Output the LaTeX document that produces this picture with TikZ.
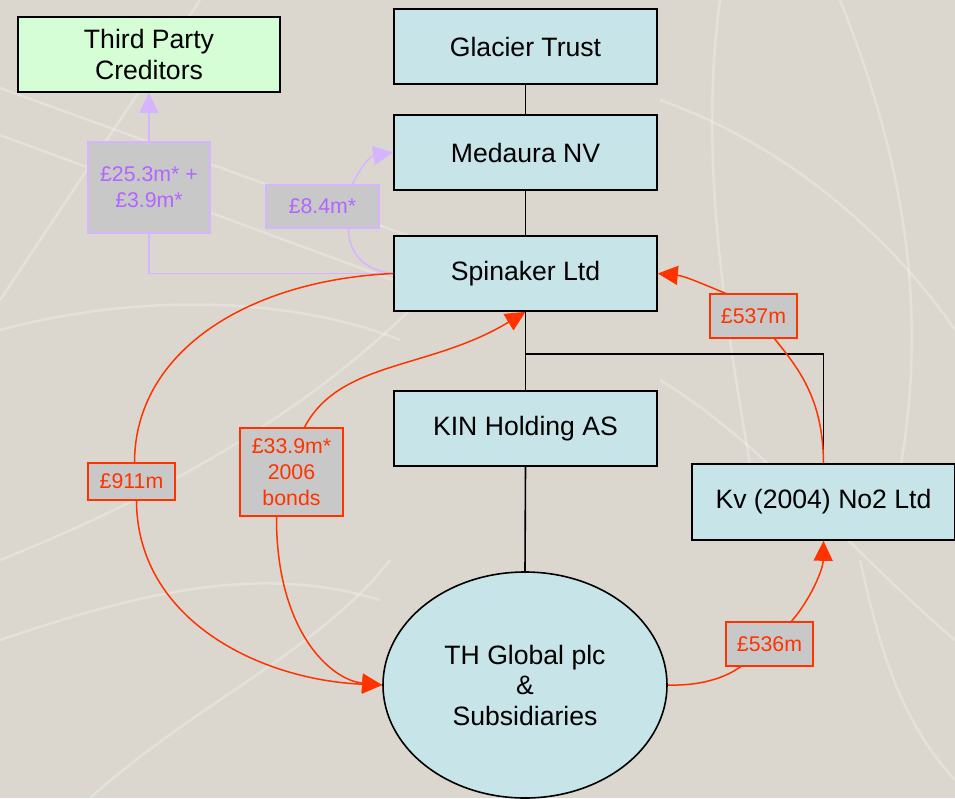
\documentclass[tikz,border=0pt]{standalone}
\usepackage{fontspec}
\setmainfont{Liberation Sans}
\usetikzlibrary{arrows.meta,shapes.geometric,calc}
\definecolor{bgc}{RGB}{219,215,207}
\definecolor{boxblue}{RGB}{199,228,232}
\definecolor{boxgreen}{RGB}{214,254,214}
\definecolor{lblgray}{RGB}{200,200,200}
\definecolor{redc}{RGB}{255,51,0}
\definecolor{purpline}{RGB}{214,180,255}
\definecolor{purptext}{RGB}{178,102,255}
\tikzset{
  entity/.style={draw=black,line width=1.6pt,fill=boxblue,minimum width=263pt,minimum height=75pt,inner sep=0pt,align=center,font=\fontsize{26.6}{30.5}\selectfont},
  redlbl/.style={draw=redc,line width=1.5pt,fill=lblgray,text=redc,inner sep=0pt,align=center,font=\fontsize{21.3}{26}\selectfont},
  purlbl/.style={draw=purpline,line width=1.5pt,fill=lblgray,text=purptext,inner sep=0pt,align=center,font=\fontsize{21.3}{26}\selectfont},
  redline/.style={draw=redc,line width=1.5pt},
  purline/.style={draw=purpline,line width=1.5pt},
  blkline/.style={draw=black,line width=1.6pt},
  redtip/.style={-{Triangle[length=20pt,width=19pt]}},
  bgline/.style={draw=white,opacity=0.25,line width=2.5pt}
}
\begin{document}
\begin{tikzpicture}[x=1pt,y=-1pt]
\fill[bgc] (0,0) rectangle (955,798);
\useasboundingbox (0,0) rectangle (955,798);
% faint background texture
\draw[bgline] (0,88) -- (420,240);
\draw[bgline] (0,135) -- (420,290);
\draw[bgline] (200,0) -- (160,60) -- (0,300);
\draw[bgline] (0,330) .. controls (150,290) and (300,300) .. (400,340);
\draw[bgline] (0,560) .. controls (150,500) and (300,420) .. (420,300);
\draw[bgline] (720,0) .. controls (700,150) and (720,300) .. (760,520);
\draw[bgline] (840,0) .. controls (900,150) and (930,300) .. (900,470);
\draw[bgline] (660,100) .. controls (800,150) and (900,250) .. (955,330);
\draw[bgline] (660,380) .. controls (760,440) and (860,560) .. (955,640);
\draw[bgline] (860,560) .. controls (880,650) and (900,720) .. (955,780);
\draw[bgline] (0,640) .. controls (120,600) and (250,560) .. (380,600);
\draw[bgline] (90,798) .. controls (200,700) and (320,650) .. (390,560);

% entities
\node[entity,fill=boxgreen,minimum width=262pt] (tp) at (149,54.5) {Third Party\\Creditors};
\node[entity] (gt) at (525.5,46.5) {Glacier Trust};
\node[entity] (md) at (525.5,152.5) {Medaura NV};
\node[entity] (sp) at (525.5,273.5) {Spinaker Ltd};
\node[entity] (kin) at (525.5,428.5) {KIN Holding AS};
\node[entity,minimum height=76pt] (kv) at (823.5,502) {Kv (2004) No2 Ltd};
\node[entity,ellipse,minimum width=284pt,minimum height=226pt] (th) at (525,685) {TH Global plc\\\&\\Subsidiaries};

% labels
\node[purlbl,minimum width=122pt,minimum height=91pt] (l253) at (149,187.5) {£25.3m* +\\£3.9m*};
\node[purlbl,minimum width=113pt,minimum height=43pt] (l84) at (322.5,206.5) {£8.4m*};
\node[redlbl,minimum width=87pt,minimum height=37pt] (l911) at (131.5,481.5) {£911m};
\node[redlbl,minimum width=103pt,minimum height=88pt] (l339) at (291.5,472) {£33.9m*\\2006\\bonds};
\node[redlbl,minimum width=87pt,minimum height=44pt] (l537) at (753.5,316) {£537m};
\node[redlbl,minimum width=87pt,minimum height=44pt] (l536) at (769.5,644) {£536m};

% ownership lines
\coordinate (j) at (525.5,354);
\draw[blkline] (gt) -- (md);
\draw[blkline] (md) -- (sp);
\draw[blkline] (sp.south) -- (kin.north);
\draw[blkline] (j) -| (kv.north);
\draw[blkline] (kin.south) -- (th.north);

% purple flows
\draw[purline] (sp.west) -| (l253.south);
\draw[purline,-{Triangle[length=20pt,width=19pt]},purpline] (l253.north) -- (tp.south);
\draw[purline] (sp.west) .. controls (362,270) and (349,252) .. ($(l84.south)+(26,0)$);
\draw[purline,-{Triangle[length=20pt,width=19pt]},purpline] ($(l84.north)+(30,0)$) .. controls (360,168) and (370,156) .. (md.west);

% red flows
\draw[redline] (sp.west) .. controls (250,280) and (135,350) .. ($(l911.north)+(3,0)$);
\draw[redline,redtip,redc] ($(l911.south)+(5,0)$) .. controls (137,620) and (260,680) .. (th.west);
\draw[redline,redtip,redc] ($(l339.north)+(13,0)$) .. controls (340,360) and (430,370) .. (sp.south);
\draw[redline,redtip,redc] ($(l339.south)+(-15,0)$) .. controls (276,630) and (330,680) .. (th.west);
\draw[redline] ($(kv.north)$) .. controls (823,400) and (800,370) .. ($(l537.south)+(21,0)$);
\draw[redline,redtip,redc] ($(l537.north)+(-28,0)$) .. controls (705,285) and (685,276) .. (sp.east);
\draw[redline] (th.east) .. controls (700,686) and (725,678) .. ($(l536.south)+(-29,0)$);
\draw[redline,redtip,redc] ($(l536.north)+(22,0)$) .. controls (810,600) and (823,570) .. (kv.south);
\end{tikzpicture}
\end{document}
